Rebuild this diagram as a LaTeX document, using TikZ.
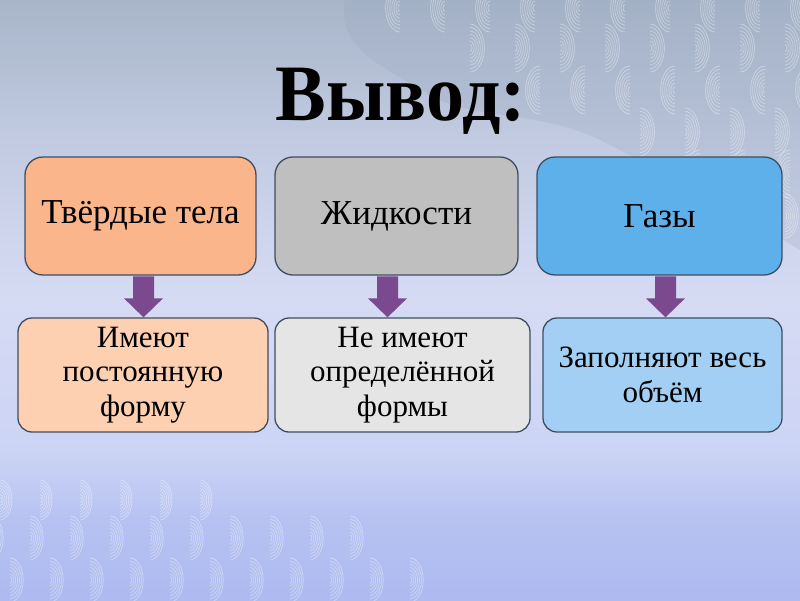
\documentclass[tikz,border=0pt]{standalone}
\usepackage{fontspec}
\setmainfont{Liberation Serif}
\usepackage{graphicx}
\usetikzlibrary{calc}
\definecolor{bgA}{HTML}{AEBAF0}
\definecolor{bgB}{HTML}{B7C2F2}
\definecolor{bgC}{HTML}{CCD4F5}
\definecolor{bgD}{HTML}{D6DBF4}
\definecolor{bgE}{HTML}{C3CCE3}
\definecolor{bgF}{HTML}{A8B5C9}
\definecolor{blobc}{HTML}{93A3BA}
\definecolor{bordc}{HTML}{3E4E62}
\definecolor{cAtop}{HTML}{FAB58B}
\definecolor{cAbot}{HTML}{FDD0B1}
\definecolor{cBtop}{HTML}{BFBFBF}
\definecolor{cBbot}{HTML}{E5E5E5}
\definecolor{cCtop}{HTML}{5EB0EA}
\definecolor{cCbot}{HTML}{A2CFF3}
\definecolor{arrowc}{HTML}{7B4A8E}
\pgfdeclareverticalshading{bgshade}{100bp}{color(0bp)=(bgA); color(25bp)=(bgA); color(31.7bp)=(bgB); color(37.5bp)=(bgC); color(50bp)=(bgD); color(62.5bp)=(bgE); color(75bp)=(bgF); color(100bp)=(bgF)}
\newcommand\fatarrow[2]{\fill[arrowc] ($(#1)+(-10.5,0)$) -- ($(#1)+(10.5,0)$) -- ($(#2)+(10.5,-19)$) -- ($(#2)+(19.5,-19)$) -- (#2) -- ($(#2)+(-19.5,-19)$) -- ($(#2)+(-10.5,-19)$) -- cycle;}
\newcommand\scalL[3]{\foreach \k in {1,...,7}{\draw[wave] ($(#1,#2)+(0,\k*#3/7)$) arc[start angle=90,end angle=270,x radius=\k*#3/7*0.6,y radius=\k*#3/7];}}
\newcommand\scalR[3]{\foreach \k in {1,...,7}{\draw[wave] ($(#1,#2)+(0,\k*#3/7)$) arc[start angle=90,end angle=-90,x radius=\k*#3/7*0.6,y radius=\k*#3/7];}}
\begin{document}
\begin{tikzpicture}[x=1pt,y=-1pt,
  wave/.style={white, opacity=0.35, line width=0.8pt},
  topbox/.style={draw=bordc, line width=1.3pt, rounded corners=18pt, minimum height=118pt, inner sep=0pt, font=\fontsize{35}{40}\selectfont},
  botbox/.style={draw=bordc, line width=1.3pt, rounded corners=14pt, minimum height=114pt, inner sep=0pt, align=center, font=\fontsize{31}{34.5}\selectfont}]
\useasboundingbox (0,0) rectangle (800,600);
\shade[shading=bgshade] (0,0) rectangle (800,600);
% darker patch top right
\fill[blobc, opacity=0.22] (345,0) .. controls (335,50) and (390,70) .. (430,95) .. controls (470,120) and (540,110) .. (600,140) .. controls (660,170) and (720,200) .. (800,250) -- (800,0) -- cycle;
% wave patterns top right
\foreach \x in {400,445,490,535,580,625,670,715,760,805} {\scalL{\x}{8}{24}}
\foreach \x in {470,515,560,605,650,695,740,785} {\scalR{\x}{48}{24}}
\foreach \x in {540,585,630,675,720,765,810} {\scalL{\x}{90}{24}}
\foreach \x in {640,685,730,775} {\scalR{\x}{132}{24}}
\foreach \x in {700,745,790} {\scalL{\x}{174}{24}}
\foreach \x in {740,785} {\scalR{\x}{216}{22}}
% wave patterns bottom left
\foreach \x in {0,40,80,120,160,200} {\scalR{\x}{500}{20}}
\foreach \x in {-10,30,70,110,150,190,230,270,310,350} {\scalR{\x}{538}{22}}
\foreach \x in {10,50,90,130,170,210,250,290,330,370,410} {\scalR{\x}{580}{22}}
% title
\node[font=\fontsize{80}{90}\bfseries] (title) at (401,101) {\scalebox{0.95}[1]{Вывод:}};
% top boxes
\node[topbox, fill=cAtop, minimum width=231pt] (t1) at (140.5,216) {Твёрдые тела};
\node[topbox, fill=cBtop, minimum width=243pt] (t2) at (396.5,216) {Жидкости};
\node[topbox, fill=cCtop, minimum width=245pt] (t3) at (659.5,216) {Газы};
% bottom boxes
\node[botbox, fill=cAbot, minimum width=250pt] (b1) at (143,375) {Имеют\\постоянную\\форму};
\node[botbox, fill=cBbot, minimum width=255pt] (b2) at (402.5,375) {Не имеют\\определённой\\формы};
\node[botbox, fill=cCbot, minimum width=239pt] (b3) at (662.5,375) {Заполняют весь\\объём};
% arrows
\coordinate (a1s) at ($(t1.south)+(3,0.6)$);
\coordinate (a1e) at (a1s |- b1.north);
\coordinate (a2s) at ($(t2.south)+(-9,0.6)$);
\coordinate (a2e) at (a2s |- b2.north);
\coordinate (a3s) at ($(t3.south)+(6,0.6)$);
\coordinate (a3e) at (a3s |- b3.north);
\fatarrow{a1s}{a1e}
\fatarrow{a2s}{a2e}
\fatarrow{a3s}{a3e}
\end{tikzpicture}
\end{document}
